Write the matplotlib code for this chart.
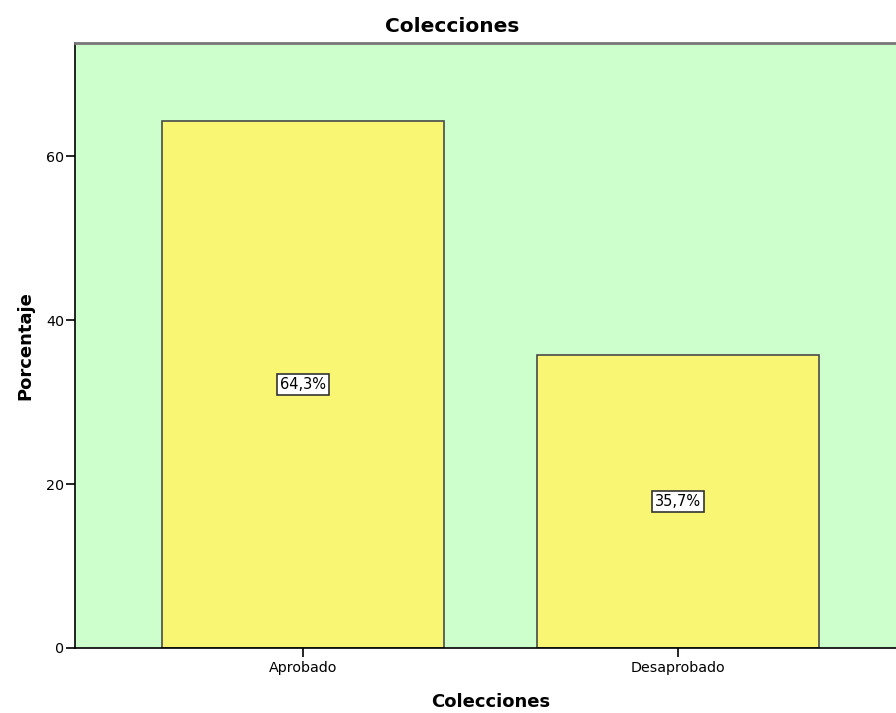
import matplotlib.pyplot as plt

categorias = ["Aprobado", "Desaprobado"]
porcentajes = [64.3, 35.7]
etiquetas = ["64,3%", "35,7%"]
yticks = [0, 20, 40, 60]

plt.rcParams['font.family'] = ['DejaVu Sans']

fig = plt.figure(figsize=(8.96, 7.13), dpi=100)
ax = fig.add_axes([0.0837, 0.0912, 0.9275, 0.8485])
ax.set_facecolor('#ccffcc')

x = list(range(len(categorias)))
ax.bar(x, porcentajes, width=0.75, color='#f9f674', edgecolor='#4a4a4a', linewidth=1.2, zorder=2)

# etiqueta con el porcentaje en el centro de cada barra
for xi, val, txt in zip(x, porcentajes, etiquetas):
    ax.text(xi, val / 2, txt, ha='center', va='center', fontsize=10.5, zorder=3,
            bbox=dict(boxstyle='square,pad=0.2', facecolor='white', edgecolor='#333333', linewidth=1.2))

ax.set_xlim(-0.608, 1.608)
ax.set_ylim(0, 73.8)
ax.set_xticks(x)
ax.set_xticklabels(categorias, fontsize=10.3)
ax.set_yticks(yticks)
ax.set_yticklabels([str(v) for v in yticks], fontsize=10.3)
ax.tick_params(axis='y', direction='out', length=6.5, width=1.2, pad=1)
ax.tick_params(axis='x', direction='out', length=6.5, width=1.2, pad=3)

ax.spines['left'].set_linewidth(1.2)
ax.spines['bottom'].set_linewidth(1.2)
ax.spines['top'].set_color('#777777')
ax.spines['top'].set_linewidth(2)
ax.spines['right'].set_visible(False)

ax.set_ylabel("Porcentaje", fontsize=13, fontweight='bold', labelpad=9)
ax.set_xlabel("Colecciones", fontsize=13, fontweight='bold', labelpad=13)
fig.text(0.505, 0.963, "Colecciones", ha='center', va='center', fontsize=14.5, fontweight='bold')

fig.savefig("out.png", dpi=100)
